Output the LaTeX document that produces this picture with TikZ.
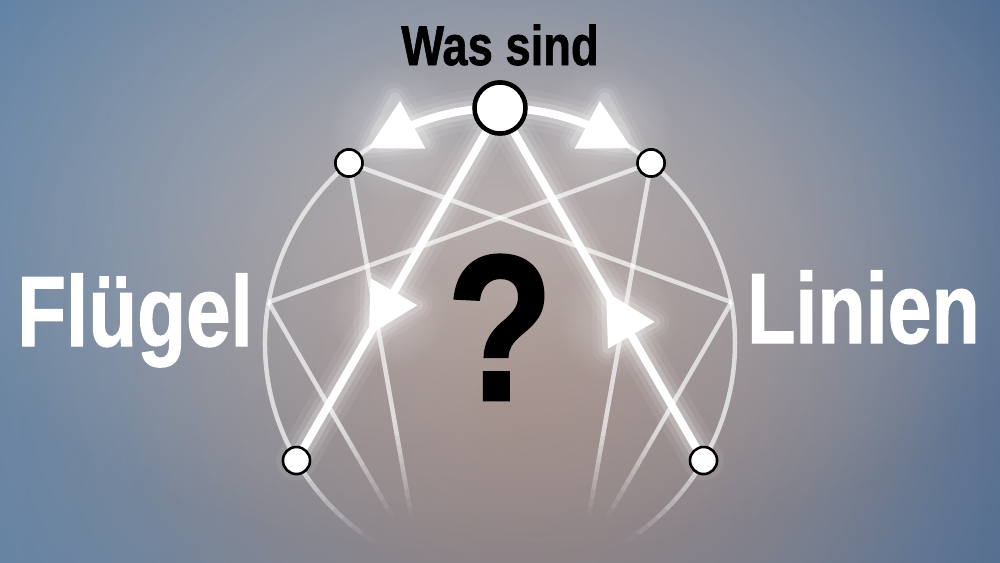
\documentclass[tikz,border=0pt]{standalone}
\usepackage{fontspec}
\setmainfont{Liberation Sans}[BoldFeatures={FakeBold=1.3}]
\usepackage{graphicx}
\usetikzlibrary{arrows.meta,bending,decorations.markings,fadings,calc}

\definecolor{bgL}{RGB}{94,130,167}
\definecolor{bgR}{RGB}{74,106,146}
\definecolor{warm}{RGB}{164,150,145}
\definecolor{warmdeep}{RGB}{150,128,122}

\tikzfading[name=radfade, inner color=transparent!0, outer color=transparent!100]

\tikzset{
  bigtip/.tip={Triangle[length=50pt,width=54pt,line width=0pt]},
}

% soft glow around an arrow head, drawn in a marking's frame
\newcommand\glowtri{%
  \foreach \w/\o in {30/0.06,20/0.10,11/0.18}{%
    \draw[white, line width=\w pt, line join=round, opacity=\o] (0,0) -- (-50,27) -- (-50,-27) -- cycle;
  }%
}

% a line that fades out towards its end, from fraction #3 to fraction #4
\newcommand\fadeseg[4]{%
  \draw[ennea] (#1) -- ($(#1)!#3!(#2)$);
  \foreach \k in {0,...,9}{%
    \pgfmathsetmacro\ta{#3+(#4-#3)*\k/10}%
    \pgfmathsetmacro\tb{#3+(#4-#3)*(\k+1)/10}%
    \pgfmathsetmacro\op{0.68*(1-(\k+0.5)/10)}%
    \draw[ennea, draw opacity=\op] ($(#1)!\ta!(#2)$) -- ($(#1)!\tb!(#2)$);
  }%
}

\begin{document}
\begin{tikzpicture}[x=1pt,y=-1pt,
  ennea/.style={draw=white, draw opacity=0.68, line width=4.5pt},
  bignode/.style={circle, draw=black, fill=white, line width=4.5pt, minimum size=51pt, inner sep=0pt},
  smallnode/.style={circle, draw=black, fill=white, line width=2.5pt, minimum size=27pt, inner sep=0pt},
  thickwhite/.style={draw=white, line width=8pt},
  glowa/.style={draw=white, line width=40pt, opacity=0.07, line cap=round},
  glowb/.style={draw=white, line width=28pt, opacity=0.11, line cap=round},
  glowc/.style={draw=white, line width=18pt, opacity=0.2, line cap=round},
  halo/.style={fill=white, opacity=0.3, path fading=radfade, fit fading=true},
  midtip/.style={postaction={decorate}, decoration={markings, mark=at position #1 with {\arrow{bigtip}}}},
  tipglow/.style={postaction={decorate}, decoration={markings, mark=at position #1 with {\glowtri}}},
  lbl/.style={inner sep=0pt, font=\bfseries}
]
\useasboundingbox (0,0) rectangle (1000,562);
% background
\shade[left color=bgL, right color=bgR] (0,0) rectangle (1000,562);
\fill[warm, path fading=radfade, fit fading=true] (505,320) ellipse (640 and 620);
\fill[warmdeep, opacity=0.85, path fading=radfade, fit fading=true] (540,390) ellipse (420 and 400);
\fill[white, opacity=0.32, path fading=radfade, fit fading=true] (500,200) ellipse (600 and 360);

% enneagram geometry
\coordinate (C) at (500,343);
\path (C) ++(-50:235) coordinate (p1);
\path (C) ++(-10:235) coordinate (p2);
\path (C) ++(30:235) coordinate (p3);
\path (C) ++(70:235) coordinate (p4);
\path (C) ++(110:235) coordinate (p5);
\path (C) ++(150:235) coordinate (p6);
\path (C) ++(190:235) coordinate (p7);
\path (C) ++(230:235) coordinate (p8);
\path (C) ++(-90:235) coordinate (p9);

% circle, fading out at the bottom
\draw[ennea] (C) ++(150:235) arc[start angle=150, end angle=390, radius=235];
\foreach \k in {0,...,8}{%
  \pgfmathsetmacro\op{0.68*(1-(\k+0.5)/9)}%
  \draw[ennea, draw opacity=\op] (C) ++({30+3*\k}:235) arc[start angle={30+3*\k}, end angle={33+3*\k}, radius=235];
  \draw[ennea, draw opacity=\op] (C) ++({150-3*\k}:235) arc[start angle={150-3*\k}, end angle={147-3*\k}, radius=235];
}
% inner lines
\draw[ennea] (p7) -- (p1);
\draw[ennea] (p8) -- (p2);
\draw[ennea] (p9) -- (p3);
\draw[ennea] (p9) -- (p6);
\fadeseg{p8}{p5}{0.66}{0.88}
\fadeseg{p1}{p4}{0.66}{0.88}
\fadeseg{p7}{p5}{0.49}{0.82}
\fadeseg{p2}{p4}{0.49}{0.82}

% nodes (placed first so connectors can reference them)
\node[bignode] (n9) at (p9) {};
\node[smallnode] (n8) at (p8) {};
\node[smallnode] (n1) at (p1) {};
\node[smallnode] (n6) at (p6) {};
\node[smallnode] (n3) at (p3) {};

% glows
\path (C) ++(-95:235) coordinate (aL0);
\path (C) ++(-85:235) coordinate (aR0);
\fill[halo] (396,132) circle[radius=70];
\fill[halo] (604,132) circle[radius=70];
\fill[halo] (388,311) circle[radius=60];
\fill[halo] (617,320) circle[radius=60];
\foreach \g in {glowa,glowb,glowc}{%
  \draw[\g] (n9.center) -- (n6.center);
  \draw[\g] (n3.center) -- (n9.center);
  \draw[\g] (aL0) arc[start angle=-95, end angle=-118, radius=235];
  \draw[\g] (aR0) arc[start angle=-85, end angle=-62, radius=235];
}
\path[tipglow=0.644] (n9.center) -- (n6.center);
\path[tipglow=0.478] (n3.center) -- (n9.center);
\path[tipglow=1] (aL0) arc[start angle=-95, end angle=-124, radius=235];
\path[tipglow=1] (aR0) arc[start angle=-85, end angle=-56, radius=235];

% thick arrows
\draw[thickwhite, midtip=0.644] (n9.center) -- (n6.center);
\draw[thickwhite, midtip=0.478] (n3.center) -- (n9.center);
\draw[thickwhite, -bigtip] (aL0) arc[start angle=-95, end angle=-124, radius=235];
\draw[thickwhite, -bigtip] (aR0) arc[start angle=-85, end angle=-56, radius=235];

% redraw nodes on top
\node[bignode] at (n9) {};
\node[smallnode] at (n8) {};
\node[smallnode] at (n1) {};
\node[smallnode] at (n6) {};
\node[smallnode] at (n3) {};

% texts
\node[lbl, white, anchor=base west] (fl) at (17,346) {\fontsize{100}{100}\selectfont\scalebox{0.8}[1]{Flügel}};
\node[lbl, white, anchor=base east] (li) at (980,343) {\fontsize{100}{100}\selectfont\scalebox{0.79}[1]{Linien}};
\node[lbl, black, anchor=base] (was) at (500,65) {\fontsize{56}{56}\selectfont\scalebox{0.81}[1]{Was sind}};
\node[lbl, black, anchor=base] (q) at (500,400) {\fontsize{208}{208}\selectfont\scalebox{0.84}[1]{?}};
\end{tikzpicture}
\end{document}
